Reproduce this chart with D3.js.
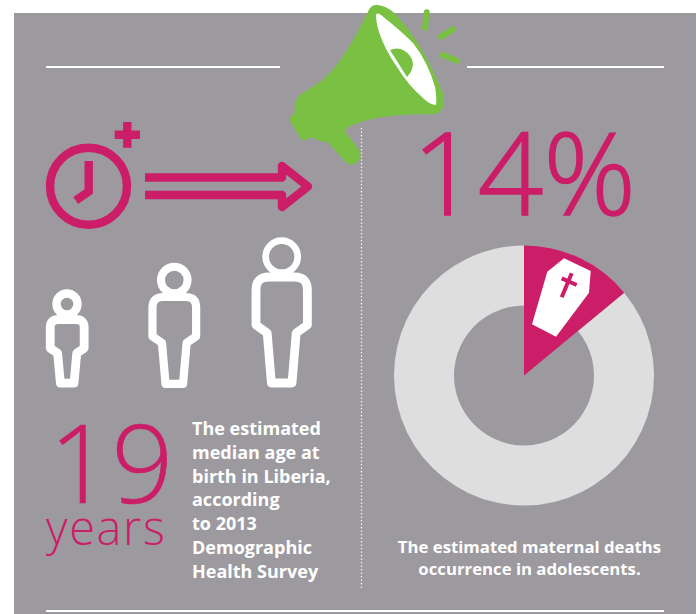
<!DOCTYPE html>
<html><head><meta charset="utf-8">
<script src="https://cdn.jsdelivr.net/npm/d3@7"></script>
<style>html,body{margin:0;padding:0;background:#fff}svg{display:block}</style>
</head><body><svg id="chart" width="698" height="614"></svg>
<script>
// Figures and captions for the two panels
const deathShareLabel = "14%";
const deathShare = [14, 86];
const medianAge = "19";
const ageUnit = "years";
const ageCaption = ["The estimated","median age at","birth in Liberia,","according","to 2013","Demographic","Health Survey"];
const deathCaption = ["The estimated maternal deaths","occurrence in adolescents."];

const pink = "#cc1d68", grey = "#9c9a9f", green = "#7ac143", pale = "#dedede";
const svg = d3.select("#chart");

svg.append("rect").attr("x",14).attr("y",13).attr("width",682).attr("height",601).attr("fill",grey);

// Rules and the dotted divider
[[46,280,67],[467,664,67],[46,664,611]].forEach(([a,b,y]) =>
  svg.append("line").attr("x1",a).attr("x2",b).attr("y1",y).attr("y2",y).attr("stroke","#fff").attr("stroke-width",2));
svg.append("line").attr("x1",361.5).attr("x2",361.5).attr("y1",128).attr("y2",590)
  .attr("stroke","#fff").attr("stroke-width",1.3).attr("stroke-dasharray","1.3 2.2");

// Clock with plus sign
const clock = svg.append("g").attr("fill","none").attr("stroke",pink).attr("stroke-width",8.4);
clock.append("circle").attr("cx",88.5).attr("cy",186.2).attr("r",38.5);
clock.append("path").attr("d","M88.700 161V191.500L75.700 200.500");
clock.append("path").attr("d","M127.300 122V147.700M114.700 134.800H140");

// Double-shafted arrow drawn as a single open outline
svg.append("path").attr("fill","none").attr("stroke",pink).attr("stroke-width",8.4).attr("stroke-linejoin","round")
  .attr("d","M145 177.500H282V166L308 186.500L282 207V195H145");

// Outlined human figures, growing left to right
const figurePath = "M-13 0H13Q25.700 0 25.700 13V48L14.500 56L10.300 106H-10.300L-14.500 56L-25.700 48V13Q-25.700 0 -13 0Z";
const bodies = [
  {x:67.2, y:319.5, sx:0.66, sy:0.60, sw:8.8, head:[67,304,10.5,8.4]},
  {x:174.3, y:297, sx:0.85, sy:0.82, sw:8.2, head:[174.3,280,13.3,8]},
  {x:281.7, y:277, sx:1, sy:1, sw:8.8, head:[281.7,256.7,16,6.7]}
];
bodies.forEach(b => {
  svg.append("path").attr("d",figurePath)
    .attr("transform",`translate(${b.x},${b.y}) scale(${b.sx},${b.sy})`)
    .attr("vector-effect","non-scaling-stroke")
    .attr("fill","none").attr("stroke","#fff").attr("stroke-width",b.sw).attr("stroke-linejoin","round");
  svg.append("circle").attr("cx",b.head[0]).attr("cy",b.head[1]).attr("r",b.head[2])
    .attr("fill","none").attr("stroke","#fff").attr("stroke-width",b.head[3]);
});

// Donut: the pink slice runs from the centre out to the full radius
const cx = 524, cy = 375.5, R = 130, r0 = 70;
const arcs = d3.pie().sort(null)(deathShare);
const g = svg.append("g").attr("transform",`translate(${cx},${cy})`);
g.append("path").attr("d",d3.arc().innerRadius(r0).outerRadius(R)(arcs[1])).attr("fill",pale);
g.append("path").attr("d",d3.arc().innerRadius(0).outerRadius(R)(arcs[0])).attr("fill",pink);

// Coffin with cross on the slice
const coffin = svg.append("g");
coffin.append("path").attr("d","M564 258.300L590.700 271L589 292.700L556 336.700L532 324.300L547.300 271.700Z").attr("fill","#fff");
coffin.append("path").attr("d","M571.700 273.300L561.700 297.300M561.700 278.300L576.700 285").attr("stroke",pink).attr("stroke-width",4).attr("fill","none");

// Megaphone
const horn = svg.append("g");
horn.append("path").attr("fill",green).attr("stroke",green).attr("stroke-width",2).attr("stroke-linejoin","round")
  .attr("d","M369 12Q372 5 378 6Q386 7 394 14Q420 42 436 80Q443 94 443 100Q443 112 434 113Q395 113 372 118Q352 122 343 130L348 137L358 150Q362 157 356 162Q350 166 346 161L327 140Q322 143 313 136L305 139Q303 140 301 137L291 121Q290 117 296 113Q294 103 300 96L323 81Q345 62 369 12Z");
horn.append("path").attr("fill","#fff")
  .attr("d","M376 15Q377 12 381 15Q400 30 413 43Q428 62 435 87Q437 98 436 105Q430 105 423 98Q408 85 397 67Q384 48 379 32Q376 22 376 15Z");
horn.append("path").attr("fill",green).attr("d","M390 50Q402 45 410 56Q417 66 407 77Z");
[[426.7,12.3,425,27.700],[441,36.700,453,29.300],[442.700,55,457,60.700]].forEach(([a,b,c,d]) =>
  horn.append("line").attr("x1",a).attr("y1",b).attr("x2",c).attr("y2",d)
    .attr("stroke",green).attr("stroke-width",6).attr("stroke-linecap","round"));

// Large figures
const thin = "'Open Sans', Lato, sans-serif";
const bold = "'Open Sans', Lato, sans-serif";
svg.append("text").text(deathShareLabel).attr("x",412).attr("y",215).attr("font-family",thin).attr("font-weight",300).attr("font-size",115).attr("fill",pink).attr("stroke",pink).attr("stroke-width",1.5);
svg.append("text").text(medianAge).attr("x",49).attr("y",503).attr("font-family",thin).attr("font-weight",300).attr("font-size",109).attr("fill",pink).attr("stroke",pink).attr("stroke-width",0.6);
svg.append("text").text(ageUnit).attr("x",46).attr("y",545).attr("font-family",thin).attr("font-weight",300).attr("font-size",47).attr("letter-spacing",1.6).attr("fill",pink);

// Captions
svg.append("g").selectAll("text").data(ageCaption).join("text").text(d=>d)
  .attr("x",192).attr("y",(d,i)=>435+i*23.8).attr("font-family",bold).attr("font-weight",700).attr("font-size",18).attr("fill","#fff");
svg.append("g").selectAll("text").data(deathCaption).join("text").text(d=>d)
  .attr("x",529.5).attr("text-anchor","middle").attr("y",(d,i)=>552.5+i*22).attr("font-family",bold).attr("font-weight",700).attr("font-size",16.750).attr("fill","#fff");
</script></body></html>
